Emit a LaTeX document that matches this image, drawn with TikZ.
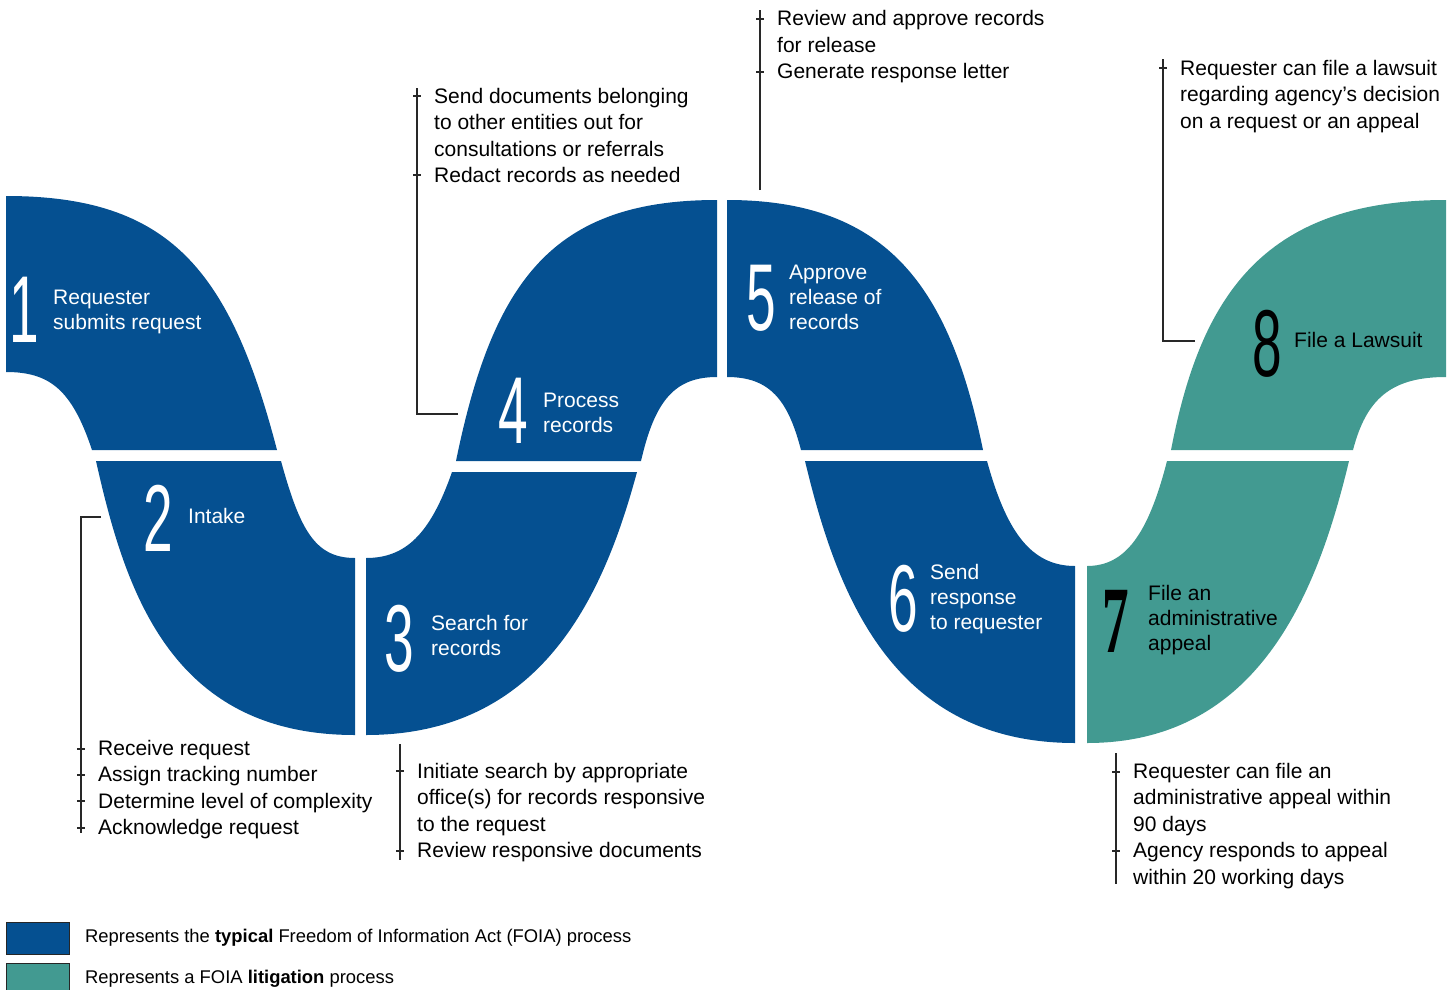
\documentclass[tikz,border=0pt]{standalone}
\usepackage{fontspec}
\setmainfont{Liberation Sans}
\newfontfamily\digitfont{Liberation Sans}
\newfontfamily\sevenfont{Liberation Serif}
\definecolor{foiablue}{RGB}{5,80,145}
\definecolor{foiagreen}{RGB}{66,154,145}
\definecolor{linegray}{RGB}{40,40,40}
\newcommand{\lns}[1]{\begin{tabular}[t]{@{}l@{}}#1\end{tabular}}
\newcommand{\dg}[1]{\scalebox{0.56}[1]{#1}}
\begin{document}
\begin{tikzpicture}[x=1pt,y=-1pt,
  seg/.style={fill=foiablue,draw=none},
  lit/.style={fill=foiagreen,draw=none},
  num/.style={font=\digitfont\fontsize{95}{95}\selectfont,text=white,inner sep=0pt,anchor=base},
  lbl/.style={font=\fontsize{21}{25}\selectfont,text=white,inner sep=0pt,anchor=base west},
  note/.style={font=\fontsize{21}{26.5}\selectfont,text=black,inner sep=0pt,anchor=base west},
  legtxt/.style={font=\fontsize{18.4}{22}\selectfont,text=black,inner sep=0pt,anchor=base west},
  bracket/.style={draw=linegray,line width=1.2pt},
  legbox/.style={draw=black!85,line width=0.8pt}]
\useasboundingbox (0,0) rectangle (1453,990);

% ribbon segments
\path[seg] (6,196) .. controls (170,196) and (230,270) .. (277,450) -- (92,450) .. controls (72,390) and (50,372) .. (6,372) -- cycle;
\path[seg] (96,461) -- (281,461) .. controls (300,530) and (315,558) .. (355,558) -- (355,735) .. controls (170,735) and (125,590) .. (96,461) -- cycle;
\path[seg] (366,558) .. controls (405,558) and (430,535) .. (452,472) -- (637,472) .. controls (605,590) and (545,735) .. (366,735) -- cycle;
\path[seg] (456,461) -- (641,461) .. controls (655,400) and (675,377) .. (717,377) -- (717,200) .. controls (553,200) and (493,280) .. (456,461) -- cycle;
\path[seg] (727,200) .. controls (890,200) and (950,290) .. (983,450) -- (801,450) .. controls (788,400) and (770,377) .. (727,377) -- cycle;
\path[seg] (805,461) -- (987,461) .. controls (1006,530) and (1030,566) .. (1075,566) -- (1075,743) .. controls (890,743) and (836,590) .. (805,461) -- cycle;
\path[lit] (1087,566) .. controls (1125,566) and (1148,535) .. (1167,461) -- (1349,461) .. controls (1318,590) and (1260,743) .. (1087,743) -- cycle;
\path[lit] (1171,450) .. controls (1200,300) and (1260,200) .. (1446,200) -- (1446,377) .. controls (1390,377) and (1366,400) .. (1353,450) -- cycle;

% step numbers
\node[num] (n1) at (24,342) {\dg{1}};
\node[num] (n2) at (158,551) {\dg{2}};
\node[num] (n3) at (399,671) {\dg{3}};
\node[num] (n4) at (513,443) {\dg{4}};
\node[num] (n5) at (761,330) {\dg{5}};
\node[num] (n6) at (903,631) {\dg{6}};
\node[num,font=\sevenfont\bfseries\fontsize{95}{95}\selectfont,text=black] (n7) at (1116,652) {\dg{7}};
\node[num,text=black] (n8) at (1267,376) {\dg{8}};

% step labels
\node[lbl] (t1) at (53,304) {\lns{Requester\\submits request}};
\node[lbl] (t2) at (188,523) {Intake};
\node[lbl] (t3) at (431,630) {\lns{Search for\\records}};
\node[lbl] (t4) at (543,407) {\lns{Process\\records}};
\node[lbl] (t5) at (789,279) {\lns{Approve\\release of\\records}};
\node[lbl] (t6) at (930,579) {\lns{Send\\response\\to requester}};
\node[lbl,text=black] (t7) at (1148,600) {\lns{File an\\administrative\\appeal}};
\node[lbl,text=black] (t8) at (1294,347) {File a Lawsuit};

% notes
\node[note] (d2) at (98,755) {\lns{Receive request\\Assign tracking number\\Determine level of complexity\\Acknowledge request}};
\node[note] (d3) at (417,778) {\lns{Initiate search by appropriate\\office(s) for records responsive\\to the request\\Review responsive documents}};
\node[note] (d4) at (434,103) {\lns{Send documents belonging\\to other entities out for\\consultations or referrals\\Redact records as needed}};
\node[note] (d5) at (777,26) {\lns{Review and approve records\\for release\\Generate response letter}};
\node[note] (d8) at (1180,75) {\lns{Requester can file a lawsuit\\regarding agency’s decision\\on a request or an appeal}};
\node[note] (d7) at (1133,778) {\lns{Requester can file an\\administrative appeal within\\90 days\\Agency responds to appeal\\within 20 working days}};

% brackets
\coordinate (b2a) at (101,517); \coordinate (b2b) at (81,517); \coordinate (b2c) at (81,833);
\draw[bracket] (b2a) -- (b2b) -- (b2c);
\foreach \yy in {749,775,801,828} \draw[bracket] (77,\yy) -- (85,\yy);

\coordinate (b3a) at (400,744); \coordinate (b3b) at (400,860);
\draw[bracket] (b3a) -- (b3b);
\foreach \yy in {771,851} \draw[bracket] (396,\yy) -- (404,\yy);

\coordinate (b4a) at (458,414); \coordinate (b4b) at (417,414); \coordinate (b4c) at (417,88);
\draw[bracket] (b4a) -- (b4b) -- (b4c);
\foreach \yy in {96,175} \draw[bracket] (413,\yy) -- (421,\yy);

\coordinate (b5a) at (760,190); \coordinate (b5b) at (760,10);
\draw[bracket] (b5a) -- (b5b);
\foreach \yy in {19,72} \draw[bracket] (756,\yy) -- (764,\yy);

\coordinate (b8a) at (1195,341); \coordinate (b8b) at (1163,341); \coordinate (b8c) at (1163,59);
\draw[bracket] (b8a) -- (b8b) -- (b8c);
\draw[bracket] (1159,68) -- (1167,68);

\coordinate (b7a) at (1116,753); \coordinate (b7b) at (1116,884);
\draw[bracket] (b7a) -- (b7b);
\foreach \yy in {772,851} \draw[bracket] (1112,\yy) -- (1120,\yy);

% legend
\path[legbox,fill=foiablue] (6,922) rectangle (69,954);
\path[legbox,fill=foiagreen] (6,963) rectangle (69,995);
\node[legtxt] (k1) at (85,942) {Represents the \textbf{typical} Freedom of Information Act (FOIA) process};
\node[legtxt] (k2) at (85,983) {Represents a FOIA \textbf{litigation} process};
\end{tikzpicture}
\end{document}
